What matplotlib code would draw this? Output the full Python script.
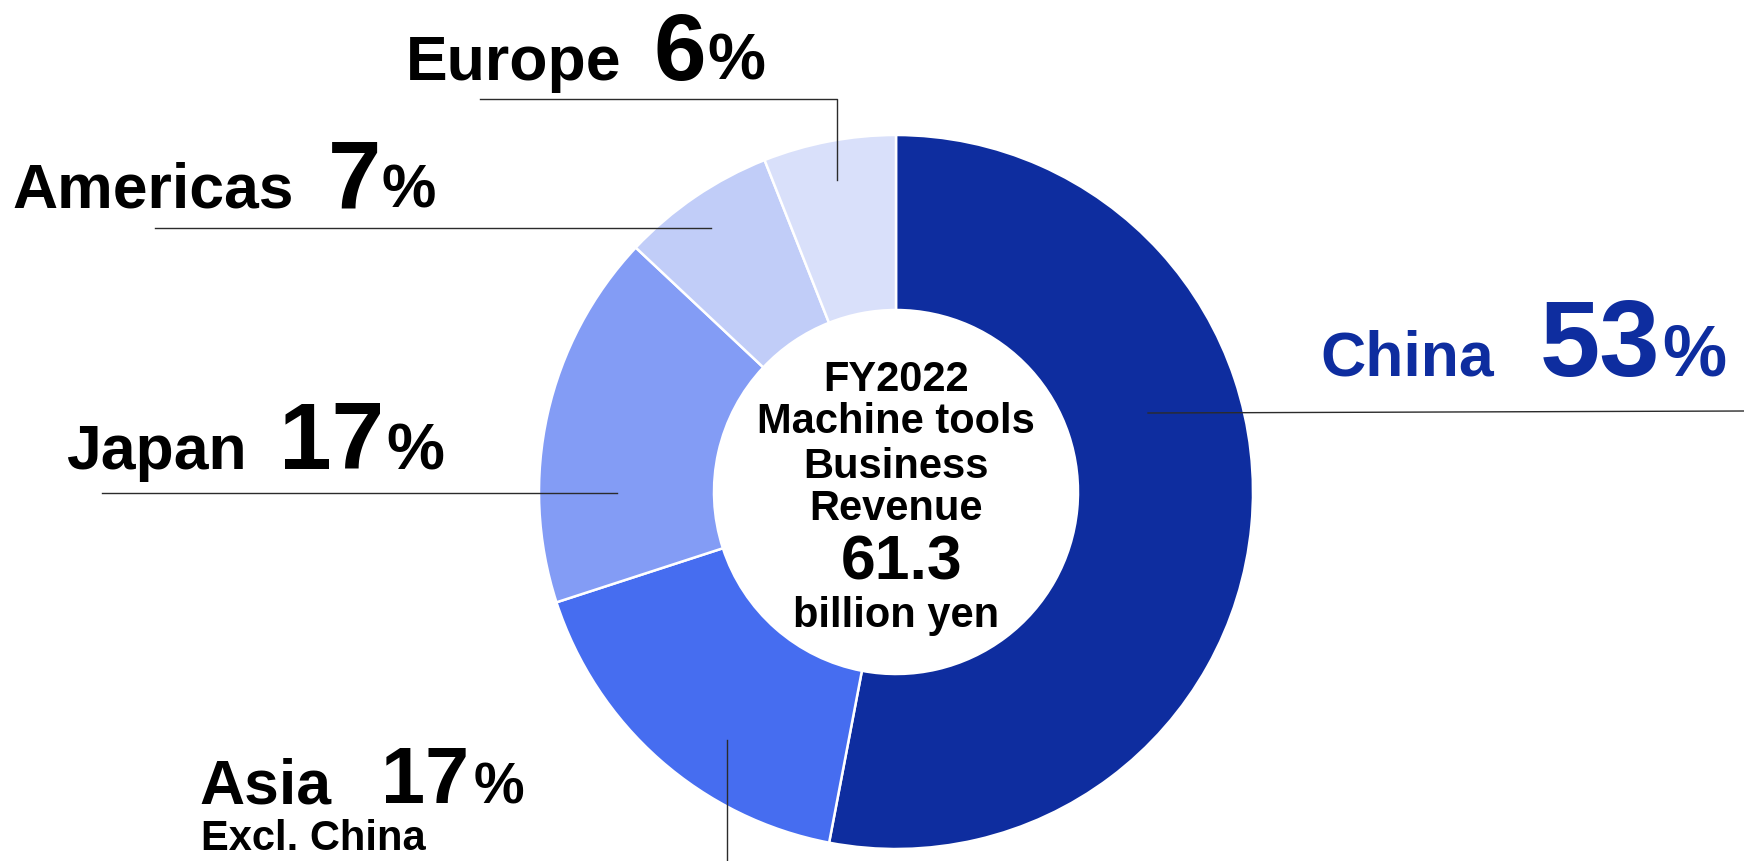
import matplotlib
matplotlib.use("Agg")
import matplotlib.pyplot as plt

plt.rcParams['font.family'] = ['Liberation Sans', 'DejaVu Sans']
plt.rcParams['font.weight'] = 'bold'

# data
regions = ['China', 'Asia', 'Japan', 'Americas', 'Europe']
shares = [53, 17, 17, 7, 6]
colors = ['#0E2D9F', '#466DF0', '#839CF5', '#C1CDF8', '#D9E0FA']
center_lines = ['FY2022', 'Machine tools', 'Business', 'Revenue']
revenue = '61.3'
unit = 'billion yen'

W, H = 1744, 861
cx, cy, r_out, r_in = 896, 492, 357, 182

fig = plt.figure(figsize=(W / 100, H / 100), dpi=100)

# donut in its own square axes
pax = fig.add_axes([(cx - r_out) / W, (H - cy - r_out) / H, 2 * r_out / W, 2 * r_out / H])
pax.pie(shares, colors=colors, startangle=90, counterclock=False, radius=1,
        wedgeprops=dict(width=1 - r_in / r_out, edgecolor='white', linewidth=1.8))
pax.set_xlim(-1, 1)
pax.set_ylim(-1, 1)
pax.axis('off')

# overlay in pixel coordinates for labels and leader lines
ax = fig.add_axes([0, 0, 1, 1])
ax.set_xlim(0, W)
ax.set_ylim(H, 0)
ax.axis('off')

lc = '#2b2b2b'
# leader lines
ax.plot([1148, 1744], [413, 411], color=lc, lw=1.0)                 # China
ax.plot([727, 727], [740, 861], color=lc, lw=1.0)                   # Asia
ax.plot([102, 617], [493, 493], color=lc, lw=1.0)                   # Japan
ax.plot([155, 711], [228, 228], color=lc, lw=1.0)                   # Americas
ax.plot([480, 837, 837], [99, 99, 180], color=lc, lw=1.0)           # Europe

# label layout: name x, name baseline, value x, value size, pct x, pct size, color
layout = {
    'China':    (1320, 376, 1540, 78, 1662, 52, '#0E2D9F'),
    'Asia':     (199, 803, 381, 57, 474, 41, 'black'),
    'Japan':    (66, 469, 279, 68, 386, 47, 'black'),
    'Americas': (12, 208, 328, 69, 381, 44, 'black'),
    'Europe':   (406, 80, 653, 68, 707, 47, 'black'),
}
for name, share in zip(regions, shares):
    nx, by, vx, vs, px, ps, c = layout[name]
    ax.text(nx, by, name, fontsize=45, color=c, ha='left', va='baseline')
    ax.text(vx, by, str(share), fontsize=vs, color=c, ha='left', va='baseline')
    ax.text(px, by, '%', fontsize=ps, color=c, ha='left', va='baseline')
ax.text(201, 850, 'Excl. China', fontsize=30, ha='left', va='baseline')

# center text
for txt, by in zip(center_lines, [391, 433, 478, 520]):
    ax.text(cx, by, txt, fontsize=30, ha='center', va='baseline')
ax.text(cx + 6, 580, revenue, fontsize=45, ha='center', va='baseline')
ax.text(cx, 627, unit, fontsize=30, ha='center', va='baseline')

fig.savefig('out.png', dpi=100)
